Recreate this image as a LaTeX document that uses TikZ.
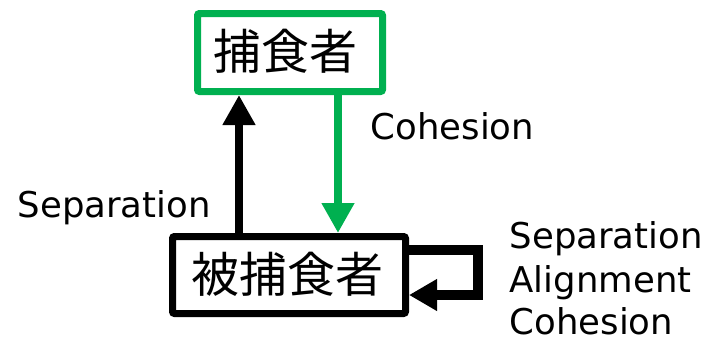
\documentclass[tikz,border=0pt]{standalone}
\usepackage{fontspec}
\setmainfont{DejaVu Sans}
\newfontfamily\jp{Noto Sans CJK JP}
\usetikzlibrary{arrows.meta}
\definecolor{ogreen}{RGB}{0,176,80}
\begin{document}
\begin{tikzpicture}[x=1pt,y=-1pt,
  box/.style={draw,line width=7pt,rounded corners=2pt,inner sep=0pt,font=\jp\fontsize{48}{50}\selectfont},
  lbl/.style={inner sep=0pt,anchor=base west,text depth=0pt,font=\fontsize{35.5}{40}\selectfont},
  thickarrow/.style={line width=8pt,-{Triangle[length=30pt,width=31pt]}}]
\useasboundingbox (0,0) rectangle (705,341);
\node[box,draw=ogreen,minimum width=185pt,minimum height=78pt] (pred) at (290,52.5) {\hspace*{-10pt}\raisebox{7pt}{捕食者}};
\node[box,minimum width=233pt,minimum height=77pt] (prey) at (289,275) {\hspace*{-4pt}\raisebox{6pt}{被捕食者}};
\coordinate (xa) at (239,0);
\coordinate (xb) at (338,0);
\draw[thickarrow] (prey.north -| xa) -- (pred.south -| xa);
\draw[thickarrow,draw=ogreen,fill=ogreen] (pred.south -| xb) -- (prey.north -| xb);
\coordinate (l1) at (0,250);
\coordinate (l2) at (478,295);
\draw[line width=10pt,-{Triangle[length=28pt,width=30pt]}] (prey.east |- l1) -| (l2) -- (prey.east |- l2);
\node[lbl] (sepl) at (17.5,217) {Separation};
\node[lbl] (coh) at (370.5,139) {Cohesion};
\node[lbl] (sepr) at (509.5,248) {Separation};
\node[lbl] (ali) at (509.5,292) {Alignment};
\node[lbl] (cohr) at (509.5,334) {Cohesion};
\end{tikzpicture}
\end{document}
